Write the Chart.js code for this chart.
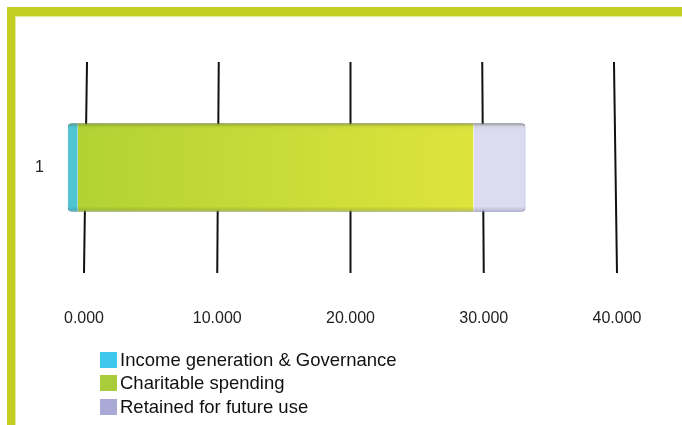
<!DOCTYPE html>
<html>
<head>
<meta charset="utf-8">
<script src="https://cdn.jsdelivr.net/npm/chart.js@4.4.1/dist/chart.umd.min.js"></script>
<style>
  body { margin: 0; background: #fff; }
  #wrap { position: relative; width: 682px; height: 425px; overflow: hidden; font-family: "Liberation Sans", Arial, sans-serif; }
  #frame { position: absolute; left: 7px; top: 7px; right: -20px; bottom: -20px;
    border-top: 9px solid #c2cf22; border-left: 8px solid #c2cf22; }
  #frame:after { content: ""; position: absolute; left: 0; top: 0; right: 0; bottom: 0;
    border-top: 1px solid #e4ea9c; border-left: 1px solid #e4ea9c; }
  canvas { position: absolute; left: 0; top: 0; }
  #legend { position: absolute; left: 100px; top: 348px; }
  .item { height: 23.5px; display: flex; align-items: center; font-size: 18.5px; color: #111; }
  .box { width: 17px; height: 16px; margin-right: 3px; }
</style>
</head>
<body>
<div id="wrap">
  <div id="frame"></div>
  <canvas id="chart" width="682" height="425"></canvas>
  <div id="legend"></div>
</div>
<script>
// DATA
const categories = ["1"];
const seriesNames = ["Income generation & Governance", "Charitable spending", "Retained for future use"];
const incomeGov = [0.75];
const charitable = [29.7];
const retained = [3.9];
const tickValues = [0, 10, 20, 30, 40];

// the 3D bar front face sits a bit left of the back wall grid
const FRONT_SHIFT = 1.22;

const legendColors = ["#3fc8ee", "#a8cc3a", "#aaaad6"];

// slanted grid lines (perspective of the back wall)
const wallGrid = {
  id: "wallGrid",
  beforeDatasetsDraw(chart) {
    const { ctx, chartArea } = chart;
    const sx = chart.scales.x;
    const mid = sx.getPixelForValue(20);
    ctx.save();
    ctx.strokeStyle = "#111";
    ctx.lineWidth = 2;
    tickValues.forEach((v) => {
      const xb = sx.getPixelForValue(v);
      const xt = mid + (xb - mid) * 0.9887;
      ctx.beginPath();
      ctx.moveTo(xt, chartArea.top);
      ctx.lineTo(xb, chartArea.bottom);
      ctx.stroke();
    });
    ctx.restore();
  },
};

// soft top/bottom shading on the bar
const barShade = {
  id: "barShade",
  afterDatasetsDraw(chart) {
    const { ctx } = chart;
    const first = chart.getDatasetMeta(0).data[0];
    const last = chart.getDatasetMeta(2).data[0];
    if (!first || !last) return;
    const top = first.y - first.height / 2;
    const bot = first.y + first.height / 2;
    const g = ctx.createLinearGradient(0, top, 0, bot);
    g.addColorStop(0, "rgba(70,80,30,0.45)");
    g.addColorStop(0.04, "rgba(70,80,30,0.05)");
    g.addColorStop(0.1, "rgba(255,255,255,0)");
    g.addColorStop(0.94, "rgba(0,0,0,0)");
    g.addColorStop(1, "rgba(40,40,80,0.2)");
    ctx.save();
    ctx.beginPath();
    ctx.roundRect(first.base, top, last.x - first.base, bot - top, 4);
    ctx.clip();
    ctx.fillStyle = g;
    ctx.fillRect(first.base, top, last.x - first.base, bot - top);
    ctx.restore();
  },
};

function greenFill(c) {
  const { chart } = c;
  if (!chart.chartArea) return "#c4da38";
  const xb = chart.scales.xb;
  const g = chart.ctx.createLinearGradient(xb.getPixelForValue(incomeGov[0]), 0,
    xb.getPixelForValue(incomeGov[0] + charitable[0]), 0);
  g.addColorStop(0, "#b2d234");
  g.addColorStop(1, "#dee43c");
  return g;
}

new Chart(document.getElementById("chart"), {
  type: "bar",
  data: {
    labels: categories,
    datasets: [
      { label: seriesNames[0], data: incomeGov, xAxisID: "xb", backgroundColor: "#4ec5d3", borderColor: "#3aa8b8" },
      { label: seriesNames[1], data: charitable, xAxisID: "xb", backgroundColor: greenFill, borderColor: "#98b03a" },
      { label: seriesNames[2], data: retained, xAxisID: "xb", backgroundColor: "#dcdbf0", borderColor: "#9c9cd8" },
    ],
  },
  options: {
    indexAxis: "y",
    responsive: false,
    animation: false,
    layout: { padding: { top: 62, right: 65, left: 0, bottom: 0 } },
    datasets: {
      bar: {
        categoryPercentage: 1,
        barPercentage: 0.42,
        borderWidth: 1,
        borderSkipped: "middle",
        borderRadius: 4,
        clip: false,
      },
    },
    plugins: { legend: { display: false }, tooltip: { enabled: false } },
    scales: {
      x: {
        min: 0,
        max: 40,
        afterBuildTicks: (s) => { s.ticks = tickValues.map((v) => ({ value: v })); },
        afterFit: (s) => { s.height = 152; },
        grid: { display: false, drawTicks: false },
        border: { display: false },
        ticks: {
          padding: 36,
          color: "#222",
          font: { family: "Liberation Sans", size: 16 },
          callback: (v) => Number(v).toFixed(3),
        },
      },
      xb: {
        stacked: true,
        display: false,
        min: FRONT_SHIFT,
        max: 40 + FRONT_SHIFT,
      },
      y: {
        stacked: true,
        afterFit: (s) => { s.width = 84; },
        grid: { display: false, drawTicks: false },
        border: { display: false },
        ticks: { padding: 40, color: "#222", font: { family: "Liberation Sans", size: 16 } },
      },
    },
  },
  plugins: [wallGrid, barShade],
});

// legend
const legend = document.getElementById("legend");
seriesNames.forEach((name, i) => {
  const row = document.createElement("div");
  row.className = "item";
  row.innerHTML = '<span class="box" style="background:' + legendColors[i] + '"></span>' + name;
  legend.appendChild(row);
});
</script>
</body>
</html>
